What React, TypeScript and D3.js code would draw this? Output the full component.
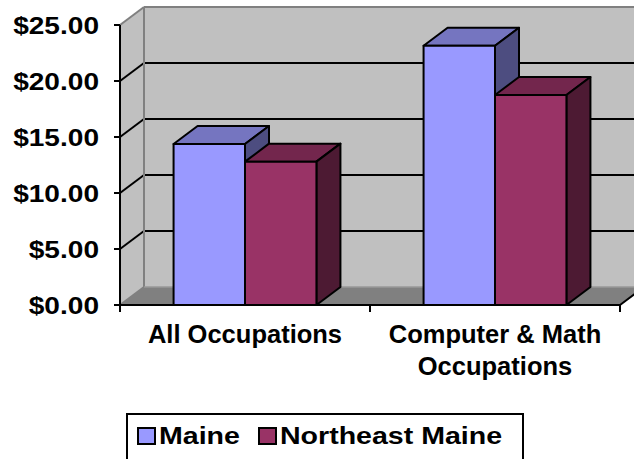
import * as d3 from "d3";

// chart data
const categories = ["All Occupations", "Computer & Math Occupations"];
const categoryLines = [["All Occupations"], ["Computer & Math", "Occupations"]];
const seriesNames = ["Maine", "Northeast Maine"];
const maineValues = [14.38, 23.15];
const northeastValues = [12.8, 18.75];
const yTicks = [0, 5, 10, 15, 20, 25];

const FONT = "'Liberation Sans', Arial, Helvetica, sans-serif";

const colors = [
  { front: "#9999ff", top: "#7575c0", side: "#4d4d80" },
  { front: "#993366", top: "#73264d", side: "#4d1a33" },
];

const App = () => {
  const width = 634;
  const height = 459;
  const left = 120;
  const right = 620;
  const bottom = 305;
  const top = 25;
  const dx = 24;
  const dy = -18;

  const y = d3.scaleLinear().domain([0, 25]).range([bottom, top]);
  const x = d3.scaleBand().domain(categories).range([left, right]).padding(0);
  const inner = d3
    .scaleBand()
    .domain(seriesNames)
    .range([0, x.bandwidth()])
    .paddingInner(0)
    .paddingOuter(0.75);
  const fmt = d3.format("$.2f");

  const allValues = [maineValues, northeastValues];

  const wallRight = right + dx;
  const backTop = y(25) + dy;
  const backBottom = bottom + dy;

  const bars = categories.flatMap((c, ci) =>
    seriesNames.map((s, si) => {
      const x0 = x(c) + inner(s);
      const w = inner.bandwidth();
      const yt = y(allValues[si][ci]);
      return { key: c + s, x0, w, yt, col: colors[si] };
    })
  );

  const pts = (arr) => arr.map((p) => p.join(",")).join(" ");

  return (
    <svg
      width={width}
      height={height}
      style={{ position: "absolute", left: 0, top: 0, background: "#fff" }}
      fontFamily={FONT}
      fontWeight="bold"
    >
      {/* walls and floor */}
      <rect x={left + dx} y={backTop} width={wallRight - left - dx} height={backBottom - backTop} fill="#c0c0c0" />
      <polygon
        points={pts([[left, y(25)], [left + dx, backTop], [left + dx, backBottom], [left, bottom]])}
        fill="#c0c0c0"
      />
      <polygon
        points={pts([[left, bottom], [right, bottom], [wallRight, backBottom], [left + dx, backBottom]])}
        fill="#808080"
      />
      {yTicks
        .filter((t) => t > 0 && t < 25)
        .map((t) => (
          <g key={"g" + t} stroke="#000" strokeWidth={2}>
            <line x1={left + dx} x2={wallRight} y1={y(t) + dy} y2={y(t) + dy} />
            <line x1={left} x2={left + dx} y1={y(t)} y2={y(t) + dy} />
          </g>
        ))}
      <g stroke="#808080" strokeWidth={2} fill="none">
        <line x1={left + dx} x2={left + dx} y1={backTop} y2={backBottom} />
        <line x1={left + dx} x2={wallRight} y1={backTop} y2={backTop} />
        <line x1={left} x2={left + dx} y1={y(25)} y2={backTop} />
        <line x1={left} x2={left + dx} y1={bottom} y2={backBottom} />
      </g>
      <line x1={left + dx} x2={wallRight} y1={backBottom} y2={backBottom} stroke="#999" strokeWidth={1.5} />

      {/* bars */}
      {bars.map((b) => (
        <g key={b.key} stroke="#000" strokeWidth={2} strokeLinejoin="round">
          <polygon
            points={pts([[b.x0, b.yt], [b.x0 + dx, b.yt + dy], [b.x0 + b.w + dx, b.yt + dy], [b.x0 + b.w, b.yt]])}
            fill={b.col.top}
          />
          <polygon
            points={pts([[b.x0 + b.w, b.yt], [b.x0 + b.w + dx, b.yt + dy], [b.x0 + b.w + dx, bottom + dy], [b.x0 + b.w, bottom]])}
            fill={b.col.side}
          />
          <rect x={b.x0} y={b.yt} width={b.w} height={bottom - b.yt} fill={b.col.front} />
        </g>
      ))}

      {/* axes */}
      <g stroke="#000" strokeWidth={2}>
        <line x1={left} x2={left} y1={y(25)} y2={bottom} />
        <line x1={left} x2={right} y1={bottom} y2={bottom} />
        <line x1={right} x2={wallRight} y1={bottom} y2={backBottom} />
        {yTicks.map((t) => (
          <line key={"yt" + t} x1={left - 6} x2={left} y1={y(t)} y2={y(t)} />
        ))}
        {[...categories.map((c) => x(c)), right].map((v, i) => (
          <line key={"xt" + i} x1={v} x2={v} y1={bottom} y2={bottom + 7} />
        ))}
      </g>
      {yTicks.map((t) => (
        <g key={"yl" + t} transform={`translate(99,${y(t) + 9}) scale(1.17,1)`}>
          <text textAnchor="end" fontSize={24} fill="#000">
            {fmt(t)}
          </text>
        </g>
      ))}
      {categories.map((c, ci) =>
        categoryLines[ci].map((line, li) => (
          <text
            key={c + li}
            x={x(c) + x.bandwidth() / 2}
            y={343 + li * 32}
            textAnchor="middle"
            fontSize={25.5}
            fill="#000"
          >
            {line}
          </text>
        ))
      )}

      {/* legend */}
      <rect x={127} y={414} width={396} height={60} fill="#fff" stroke="#000" strokeWidth={2} />
      {seriesNames.map((s, si) => {
        const lx = si === 0 ? 138 : 259;
        return (
          <g key={s}>
            <rect x={lx} y={428} width={17} height={16} fill={colors[si].front} stroke="#000" strokeWidth={2} />
            <g transform={`translate(${lx + 21},444) scale(1.19,1)`}>
              <text fontSize={24} fill="#000">
                {s}
              </text>
            </g>
          </g>
        );
      })}
    </svg>
  );
};

export default App;
